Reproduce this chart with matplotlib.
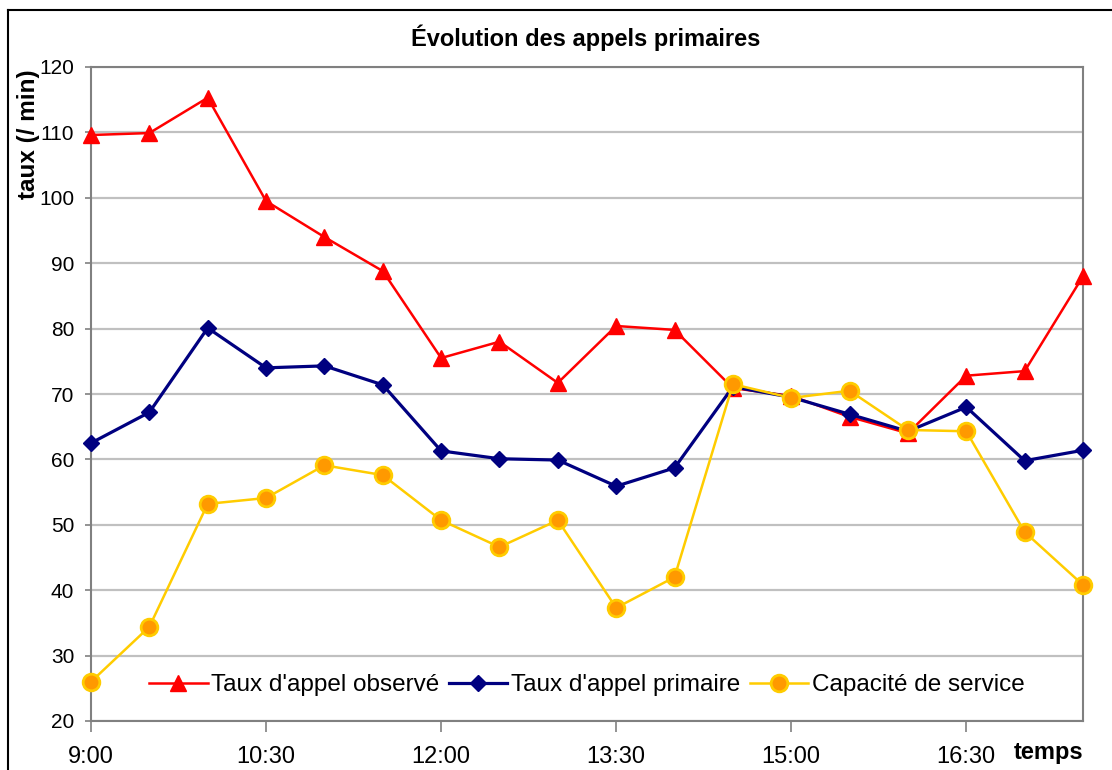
import matplotlib
matplotlib.use("Agg")
import matplotlib.pyplot as plt
from matplotlib.lines import Line2D

plt.rcParams['font.family'] = ['Liberation Sans', 'DejaVu Sans']

# categories: 9:00 to 17:30, every 30 min
times = ["9:00", "9:30", "10:00", "10:30", "11:00", "11:30", "12:00", "12:30", "13:00",
         "13:30", "14:00", "14:30", "15:00", "15:30", "16:00", "16:30", "17:00", "17:30"]

observe = [109.6, 109.9, 115.3, 99.5, 94.0, 88.8, 75.5, 78.0, 71.7,
           80.4, 79.8, 70.9, 69.7, 66.5, 64.0, 72.8, 73.5, 88.0]
primaire = [62.5, 67.2, 80.1, 74.0, 74.3, 71.4, 61.3, 60.1, 59.9,
            55.9, 58.7, 71.1, 69.5, 66.9, 64.3, 68.0, 59.8, 61.4]
capacite = [26.0, 34.4, 53.2, 54.1, 59.1, 57.6, 50.7, 46.6, 50.7,
            37.3, 42.0, 71.5, 69.4, 70.5, 64.5, 64.3, 48.9, 40.8]

W, H = 1112, 770
fig = plt.figure(figsize=(W / 100, H / 100), dpi=100)
ax = fig.add_axes([91 / W, 1 - 721 / H, (1083 - 91) / W, (721 - 67) / H])

x = list(range(len(times)))
ax.plot(x, observe, color='#FF0000', lw=1.8, marker='^', markersize=12,
        label="Taux d'appel observé", clip_on=False, zorder=3)
ax.plot(x, primaire, color='#000080', lw=2.3, marker='D', markersize=8.5,
        label="Taux d'appel primaire", clip_on=False, zorder=4)
ax.plot(x, capacite, color='#FFCC00', lw=1.8, marker='o', markersize=12,
        markerfacecolor='#FF9900', markeredgecolor='#FFCC00', markeredgewidth=2,
        label="Capacité de service", clip_on=False, zorder=5)

ax.set_xlim(0, len(times) - 1)
ax.set_ylim(20, 120)
ax.set_yticks(range(20, 121, 10))
ax.yaxis.grid(True, color='#C0C0C0', lw=1.6)
ax.set_axisbelow(True)

ax.set_xticks(x[::3])
ax.set_xticklabels(times[::3], fontsize=17)
ax.tick_params(axis='x', direction='out', length=8, width=1.2, color='#808080', pad=10)
ax.tick_params(axis='y', direction='out', length=4, width=1.2, color='#808080', pad=8,
               labelsize=15)

for s in ax.spines.values():
    s.set_color('#808080')
    s.set_linewidth(1.5)

ax.legend(loc='center', bbox_to_anchor=(0.5, 0.055), ncol=3, frameon=False,
          fontsize=17.5, handlelength=2.4, handletextpad=0.15, columnspacing=0.4)

fig.text(586 / W, 1 - 38 / H, "Évolution des appels primaires", ha='center', va='center',
         fontsize=17, fontweight='bold')
fig.text(29 / W, 1 - 134 / H, "taux (/ min)", ha='center', va='center', rotation=90,
         fontsize=17.5, fontweight='bold')
fig.text(1049 / W, 1 - 753 / H, "temps", ha='center', va='center',
         fontsize=17, fontweight='bold')

# outer chart frame (left and top visible)
fig.add_artist(Line2D([8 / W, 8 / W], [0, 1 - 10 / H], color='black', lw=1.5))
fig.add_artist(Line2D([8 / W, 1], [1 - 10 / H, 1 - 10 / H], color='black', lw=1.5))

fig.savefig("out.png", dpi=100)
